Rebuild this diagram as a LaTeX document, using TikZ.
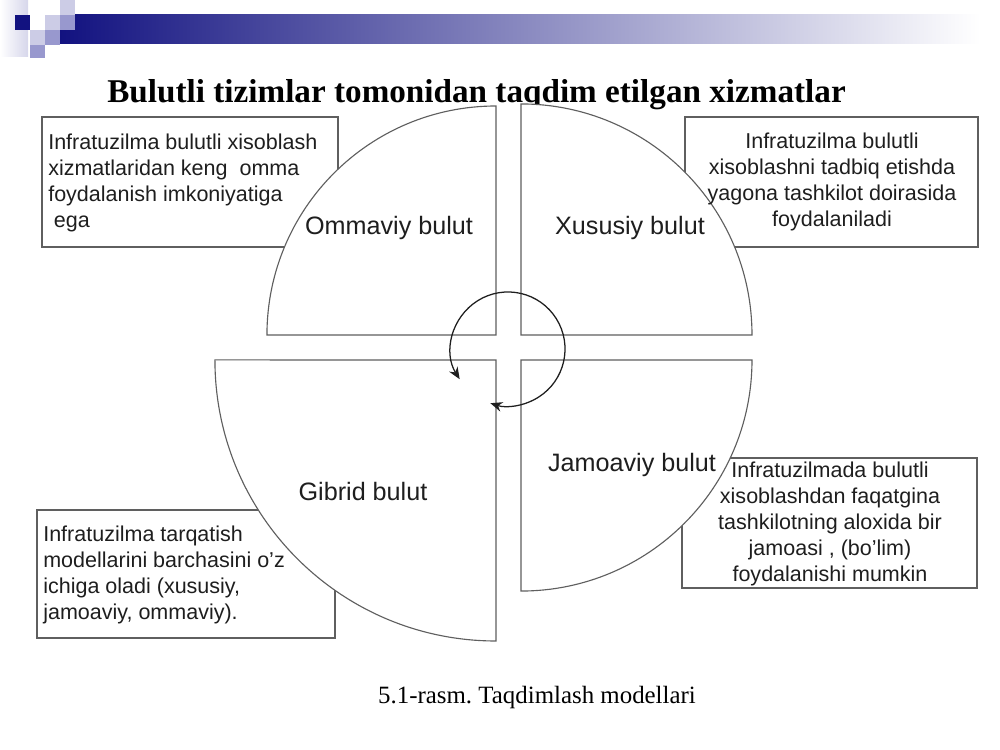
\documentclass[tikz,border=0pt]{standalone}
\usepackage{fontspec}
\setmainfont{Liberation Serif}
\setsansfont{Liberation Sans}
\usetikzlibrary{arrows.meta}
\definecolor{navyblue}{RGB}{18,18,128}
\definecolor{palelilac}{RGB}{204,204,230}
\definecolor{midlilac}{RGB}{152,152,206}
\definecolor{linegray}{RGB}{95,95,95}
\definecolor{textgray}{RGB}{30,30,30}
\frenchspacing

\begin{document}
\begin{tikzpicture}[x=0.025cm, y=0.025cm,
  quarter/.style={draw=linegray, line width=0.8pt, fill=white},
  infobox/.style={draw=linegray, line width=0.9pt},
  infotext/.style={text=textgray, inner sep=0pt, font=\sffamily\fontsize{15.3}{18.5}\selectfont},
  cloudlabel/.style={text=textgray, inner sep=0pt, font=\sffamily\fontsize{17.9}{21}\selectfont}]
\useasboundingbox (0, 0) rectangle (1000, 750);
\shade [left color=navyblue, right color=white] (60, 706) rectangle (980, 735);
\shade [left color=white, right color=palelilac!80] (0, 693) rectangle (28, 750);
\fill [navyblue] (15, 720) rectangle (30, 735);
\foreach \x/\y in {45/720, 60/735, 30/705}{\fill [palelilac] (\x, \y) rectangle ++(15, 15);}
\foreach \x/\y in {60/720, 45/705}{\fill [midlilac] (\x, \y) rectangle ++(15, 15);}
\fill [midlilac] (30, 692) rectangle (45, 705);
\node [font=\bfseries\fontsize{23.6}{28}\selectfont, anchor=base] (title) at (476.5, 647) {Bulutli tizimlar tomonidan taqdim etilgan xizmatlar};
\draw [infobox] (42, 633) rectangle (338, 503);
\draw [infobox] (685, 633) rectangle (978, 503);
\draw [infobox] (682, 292) rectangle (977, 162);
\draw [infobox] (37, 240) rectangle (335, 112);
\draw [quarter] (496, 415) -- (496, 644) arc [start angle=90, end angle=180, radius=5.725cm] -- cycle;
\draw [quarter] (521, 415) -- (752, 415) arc [start angle=0, end angle=90, radius=5.775cm] -- cycle;
\draw [quarter] (496, 390) -- (496, 109) arc [start angle=270, end angle=180, radius=7.025cm] -- cycle;
\draw [quarter] (521, 390) -- (752, 390) arc [start angle=0, end angle=-90, radius=5.775cm] -- cycle;
\draw [textgray, line width=0.9pt, {Stealth[length=8.5pt, width=7pt]}-{Stealth[length=8.5pt, width=7pt]}] (508, 401) ++(212:57) arc [start angle=212, end angle=-108, radius=1.425cm];
\node [infotext, anchor=west, align=left] (publicText) at (48, 567) {Infratuzilma bulutli xisoblash\\xizmatlaridan keng\ \ omma\\foydalanish imkoniyatiga\\\hspace*{4pt}ega};
\node [infotext, align=center] (privateText) at (832, 568) {Infratuzilma bulutli\\xisoblashni tadbiq etishda\\yagona tashkilot doirasida\\foydalaniladi};
\node [infotext, align=center] (communityText) at (830, 226) {Infratuzilmada bulutli\\xisoblashdan faqatgina\\tashkilotning aloxida bir\\jamoasi , (bo’lim)\\foydalanishi mumkin};
\node [infotext, anchor=west, align=left] (hybridText) at (43, 175) {Infratuzilma tarqatish\\modellarini barchasini o’z\\ichiga oladi (xususiy,\\jamoaviy, ommaviy).};
\node [cloudlabel] (publicCloud) at (389, 522) {Ommaviy bulut};
\node [cloudlabel] (privateCloud) at (630, 522) {Xususiy bulut};
\node [cloudlabel] (communityCloud) at (632, 285) {Jamoaviy bulut};
\node [cloudlabel] (hybridCloud) at (363, 258) {Gibrid bulut};
\node [font=\fontsize{17.7}{21}\selectfont] (caption) at (537, 52) {5.1-rasm. Taqdimlash modellari};
\end{tikzpicture}
\end{document}
